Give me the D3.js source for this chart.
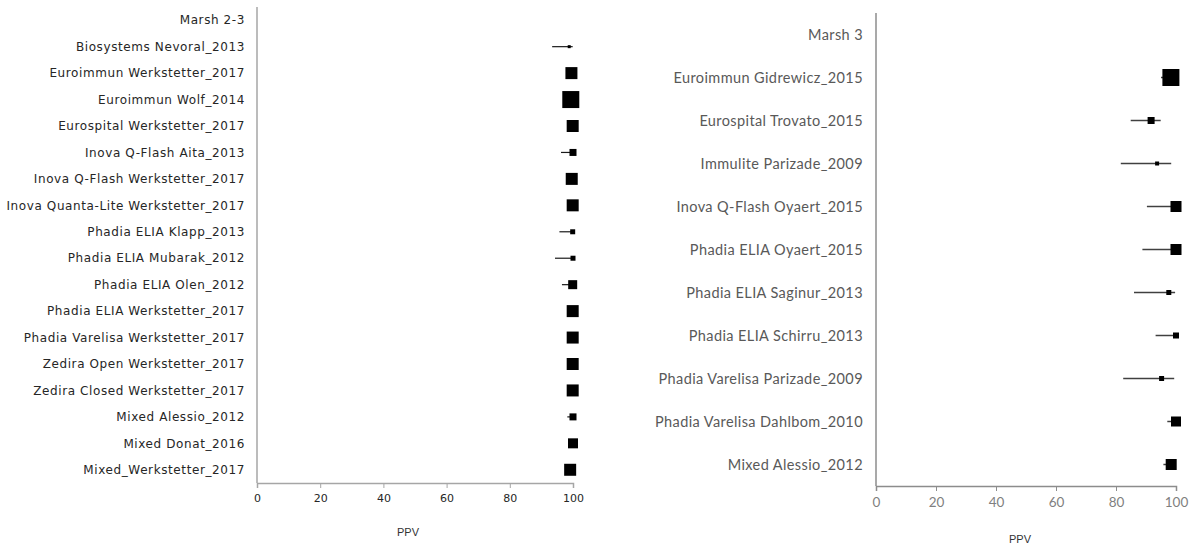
<!DOCTYPE html>
<html>
<head>
<meta charset="utf-8">
<script src="https://cdn.jsdelivr.net/npm/d3@7"></script>
<style>
  body { margin: 0; background: #fff; }
  svg { display: block; }
</style>
</head>
<body>
<div id="chart"></div>
<script>
// Marsh 2-3 panel
const leftStudies = ["Marsh 2-3", "Biosystems Nevoral_2013", "Euroimmun Werkstetter_2017", "Euroimmun  Wolf_2014",
    "Eurospital Werkstetter_2017", "Inova Q-Flash Aita_2013", "Inova Q-Flash Werkstetter_2017",
    "Inova Quanta-Lite Werkstetter_2017", "Phadia ELIA Klapp_2013", "Phadia ELIA Mubarak_2012",
    "Phadia ELIA Olen_2012", "Phadia ELIA Werkstetter_2017", "Phadia Varelisa Werkstetter_2017",
    "Zedira Open Werkstetter_2017", "Zedira Closed Werkstetter_2017", "Mixed Alessio_2012",
    "Mixed Donat_2016", "Mixed_Werkstetter_2017"];
const leftPPV =    [null, 98.8, 99.5, 99.3, 99.9, 100, 99.6, 99.9, 99.9, 100, 99.9, 99.9, 99.9, 99.9, 99.9, 100, 100, 99.1];
const leftLower =  [null, 93.4, 99.5, 99.3, 99.9, 96.2, 99.6, 99.9, 95.7, 94.3, 96.5, 99.9, 99.9, 99.9, 99.9, 98.2, 100, 99.1];
const leftUpper =  [null, 99.9, 99.5, 99.3, 99.9, 100, 99.6, 99.9, 100, 100, 100, 99.9, 99.9, 99.9, 99.9, 100, 100, 99.1];
const leftWeight = [null, 9, 144, 289, 144, 49, 144, 144, 25, 25, 81, 144, 144, 144, 144, 49, 100, 144];

// Marsh 3 panel
const rightStudies = ["Marsh 3", "Euroimmun Gidrewicz_2015", "Eurospital Trovato_2015", "Immulite Parizade_2009",
    "Inova Q-Flash Oyaert_2015", "Phadia ELIA Oyaert_2015", "Phadia ELIA Saginur_2013",
    "Phadia ELIA Schirru_2013", "Phadia Varelisa Parizade_2009", "Phadia Varelisa Dahlbom_2010",
    "Mixed Alessio_2012"];
const rightPPV =    [null, 98.3, 91.7, 93.7, 100, 100, 97.6, 100, 95.2, 100, 98.4];
const rightLower =  [null, 95.0, 84.9, 81.6, 90.3, 88.8, 86.0, 93.2, 82.4, 97.1, 95.8];
const rightUpper =  [null, 99.5, 94.9, 98.4, 100, 100, 99.7, 100, 99.4, 100, 99.5];
const rightWeight = [null, 289, 49, 16, 121, 121, 25, 36, 25, 100, 121];

const xTicks = [0, 20, 40, 60, 80, 100];

const svg = d3.select("#chart").append("svg")
    .attr("width", 1190)
    .attr("height", 544);

const size = d3.scaleSqrt().domain([0, 289]).range([0, 17]);

function drawPanel(opt) {
    const g = svg.append("g").attr("transform", `translate(${opt.left},${opt.top})`);

    const x = d3.scaleLinear().domain([0, 100]).range([0, opt.width]);
    const y = d3.scaleBand().domain(opt.studies).range([0, opt.height]);

    const rows = opt.studies.map((s, i) => ({
        name: s, ppv: opt.ppv[i], lo: opt.lower[i], hi: opt.upper[i], w: opt.weight[i]
    }));

    // y axis line only, labels drawn separately
    g.append("line")
        .attr("x1", 0).attr("x2", 0)
        .attr("y1", 0).attr("y2", opt.height)
        .attr("stroke", opt.axisColor).attr("stroke-width", 1.5);

    g.selectAll(".lab")
        .data(rows)
        .enter()
        .append("text")
        .attr("class", "lab")
        .attr("x", -opt.labelGap)
        .attr("y", d => y(d.name) + y.bandwidth() / 2)
        .attr("dy", "0.35em")
        .attr("text-anchor", "end")
        .attr("font-family", opt.font)
        .attr("font-size", opt.labelSize)
        .attr("letter-spacing", opt.spacing)
        .attr("fill", opt.labelColor)
        .text(d => d.name);

    const xAxis = g.append("g")
        .attr("transform", `translate(0,${opt.height})`)
        .call(d3.axisBottom(x).tickValues(xTicks).tickSize(5).tickPadding(6));
    xAxis.select(".domain").attr("stroke", opt.axisColor).attr("stroke-width", 1.5);
    xAxis.selectAll(".tick line").attr("stroke", opt.axisColor);
    xAxis.selectAll(".tick text")
        .attr("font-family", opt.font)
        .attr("font-size", opt.tickSize)
        .attr("fill", opt.tickColor);

    g.append("text")
        .attr("x", opt.width / 2 + opt.titleShift)
        .attr("y", opt.height + opt.titleGap)
        .attr("text-anchor", "middle")
        .attr("font-family", "Liberation Sans, Arial, sans-serif")
        .attr("font-size", 11)
        .attr("fill", "#333")
        .text("PPV");

    const pts = rows.filter(d => d.ppv !== null);

    g.selectAll(".ci")
        .data(pts)
        .enter()
        .append("line")
        .attr("class", "ci")
        .attr("x1", d => x(d.lo))
        .attr("x2", d => x(d.hi))
        .attr("y1", d => y(d.name) + y.bandwidth() / 2)
        .attr("y2", d => y(d.name) + y.bandwidth() / 2)
        .attr("stroke", opt.ciColor)
        .attr("stroke-width", opt.ciWidth);

    g.selectAll(".pt")
        .data(pts)
        .enter()
        .append("rect")
        .attr("class", "pt")
        .attr("x", d => x(d.ppv) - size(d.w) / 2)
        .attr("y", d => y(d.name) + y.bandwidth() / 2 - size(d.w) / 2)
        .attr("width", d => size(d.w))
        .attr("height", d => size(d.w))
        .attr("fill", "#000");
}

drawPanel({
    studies: leftStudies, ppv: leftPPV, lower: leftLower, upper: leftUpper, weight: leftWeight,
    left: 257, top: 7, width: 316, height: 476,
    font: "DejaVu Sans, Verdana, sans-serif", labelSize: 12, spacing: 0.6, labelGap: 12, labelColor: "#262626",
    tickSize: 11, tickColor: "#262626", axisColor: "#a6a6a6",
    ciColor: "#1a1a1a", ciWidth: 1.2, titleGap: 53, titleShift: -7
});

drawPanel({
    studies: rightStudies, ppv: rightPPV, lower: rightLower, upper: rightUpper, weight: rightWeight,
    left: 876, top: 13, width: 300, height: 473,
    font: "Lato, Carlito, sans-serif", labelSize: 14.5, spacing: 0.4, labelGap: 13, labelColor: "#595959",
    tickSize: 13.5, tickColor: "#7f7f7f", axisColor: "#8c8c8c",
    ciColor: "#404040", ciWidth: 1.5, titleGap: 57, titleShift: -6
});
</script>
</body>
</html>
